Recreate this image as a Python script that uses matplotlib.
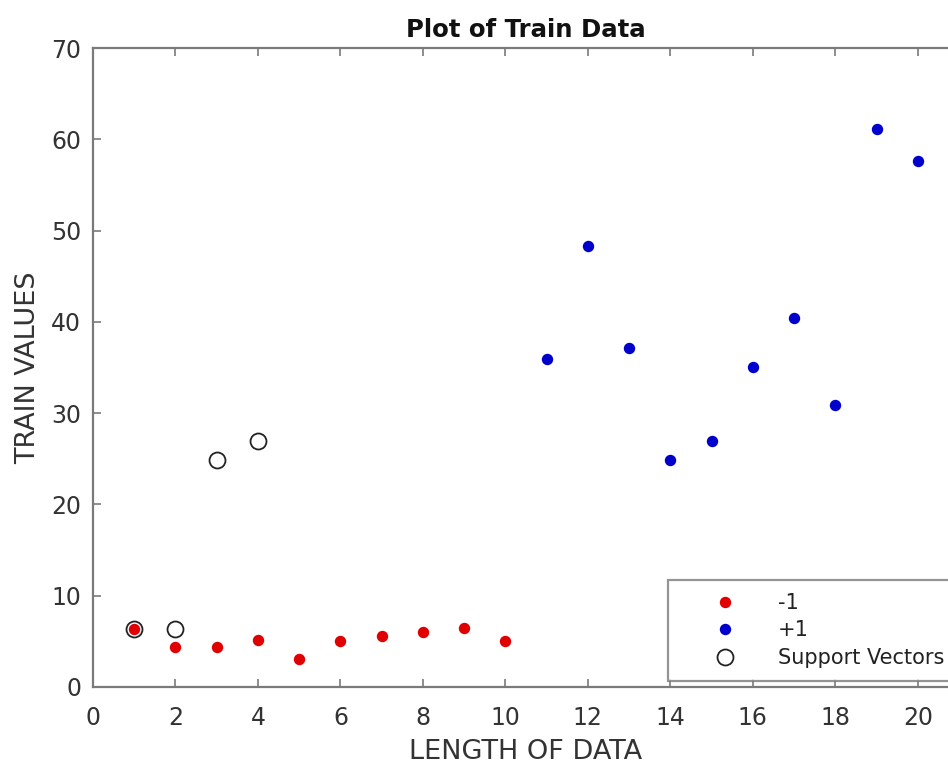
import matplotlib
matplotlib.use("Agg")
import matplotlib.pyplot as plt

plt.rcParams['font.family'] = ['DejaVu Sans']

neg_x = [1, 2, 3, 4, 5, 6, 7, 8, 9, 10]
neg_y = [6.4, 4.35, 4.35, 5.15, 3.1, 5.0, 5.6, 6.0, 6.45, 5.0]
pos_x = [11, 12, 13, 14, 15, 16, 17, 18, 19, 20]
pos_y = [35.9, 48.3, 37.1, 24.9, 27.0, 35.1, 40.4, 30.9, 61.1, 57.6]
sv_x = [1, 2, 3, 4]
sv_y = [6.4, 6.35, 24.9, 26.9]

W, H = 948, 764
fig = plt.figure(figsize=(W/100, H/100), dpi=100)
ax = fig.add_axes([93/W, 1-687/H, (959-93)/W, (687-48)/H])

ax.plot(neg_x, neg_y, 'o', color='#e00000', markersize=7.2, linestyle='none', label='-1', zorder=3)
ax.plot(pos_x, pos_y, 'o', color='#0000cc', markersize=7.2, linestyle='none', label='+1', zorder=3)
ax.plot(sv_x, sv_y, 'o', markerfacecolor='none', markeredgecolor='#222222', markeredgewidth=1.3,
        markersize=11.5, linestyle='none', label='Support Vectors', zorder=4)

ax.set_xlim(0, 21)
ax.set_ylim(0, 70)
ax.set_xticks(range(0, 21, 2))
ax.set_yticks(range(0, 71, 10))

for s in ax.spines.values():
    s.set_color('#7a7a7a')
    s.set_linewidth(1.6)
ax.tick_params(direction='in', length=6, width=1.2, color='#7a7a7a',
               top=True, right=True, labelsize=17, labelcolor='#333333')
ax.tick_params(axis='x', pad=14)
ax.tick_params(axis='y', pad=8.5)

ax.set_xlabel('LENGTH OF DATA', fontsize=19.5, color='#333333', labelpad=6)
ax.set_ylabel('TRAIN VALUES', fontsize=19.5, color='#333333', labelpad=7)
ax.set_title('Plot of Train Data', fontsize=17.6, fontweight='bold', color='#111111', pad=8)

leg = ax.legend(loc='upper left', bbox_to_anchor=(668/W, 1-580/H), bbox_transform=fig.transFigure,
                frameon=True, fancybox=False, edgecolor='#7a7a7a', fontsize=15,
                borderpad=0.62, labelspacing=0.36, handletextpad=0.44, handlelength=4.2,
                borderaxespad=0)
leg.get_frame().set_linewidth(1.6)
for t in leg.get_texts():
    t.set_color('#222222')

fig.savefig('out.png', dpi=100, facecolor='white')
